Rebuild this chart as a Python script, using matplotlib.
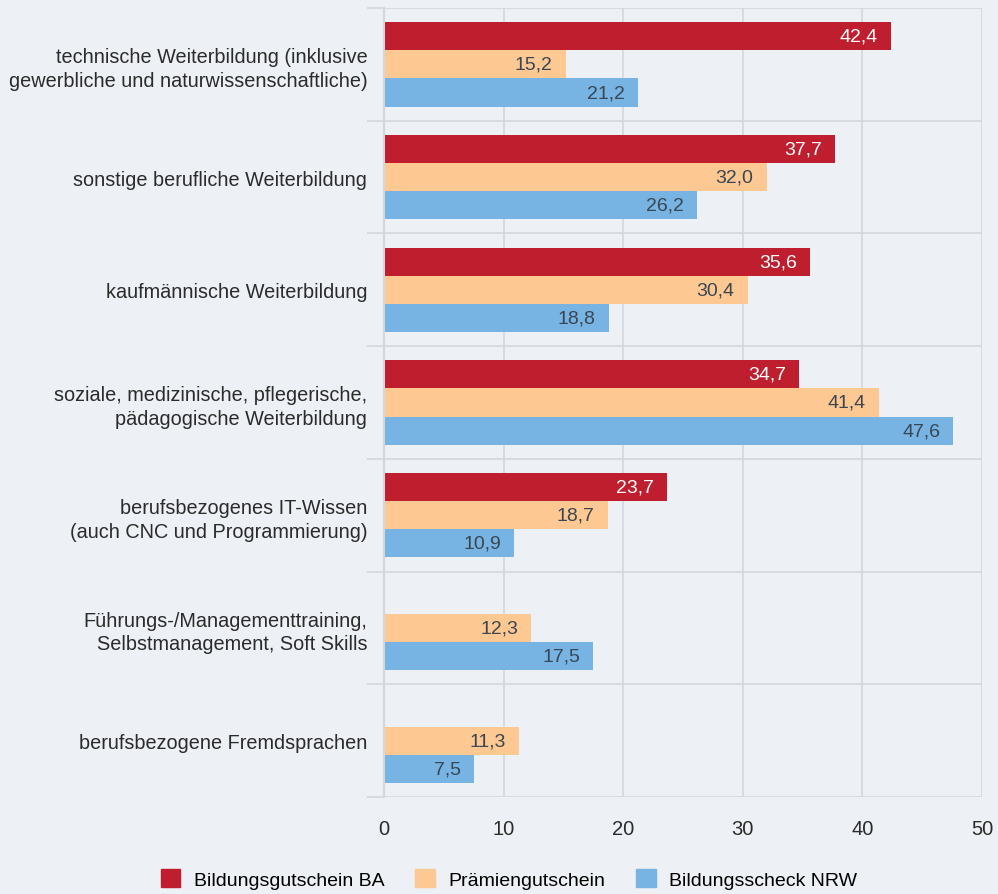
import numpy as np
import matplotlib.pyplot as plt

categories = [
    "technische Weiterbildung (inklusive\ngewerbliche und naturwissenschaftliche)",
    "sonstige berufliche Weiterbildung",
    "kaufmännische Weiterbildung",
    "soziale, medizinische, pflegerische,\npädagogische Weiterbildung",
    "berufsbezogenes IT-Wissen\n(auch CNC und Programmierung)",
    "Führungs-/Managementtraining,\nSelbstmanagement, Soft Skills",
    "berufsbezogene Fremdsprachen",
]
series_names = ["Bildungsgutschein BA", "Prämiengutschein", "Bildungsscheck NRW"]
gutschein_ba = [42.4, 37.7, 35.6, 34.7, 23.7, None, None]
praemie = [15.2, 32.0, 30.4, 41.4, 18.7, 12.3, 11.3]
scheck_nrw = [21.2, 26.2, 18.8, 47.6, 10.9, 17.5, 7.5]

colors = ["#be1e2d", "#fec892", "#77b4e3"]
label_colors = ["white", "#3a4652", "#3a4652"]
bg = "#edf0f4"
grid_c = "#d3d6da"

plt.rcParams["font.family"] = ["Liberation Sans", "DejaVu Sans"]

fig = plt.figure(figsize=(9.98, 8.95), dpi=100, facecolor=bg)
ax = fig.add_axes([384 / 998, 1 - 798 / 895, 598 / 998, 789 / 895])
ax.set_facecolor(bg)

n = len(categories)
y = np.arange(n)
h = 0.25
offsets = [-h, 0, h]
for s, (vals, col, lc) in enumerate(zip([gutschein_ba, praemie, scheck_nrw], colors, label_colors)):
    for i, v in enumerate(vals):
        if v is None:
            continue
        yy = y[i] + offsets[s]
        ax.barh(yy, v, height=h, color=col, zorder=3)
        ax.text(v - 1.1, yy, f"{v:.1f}".replace(".", ","), ha="right", va="center",
                color=lc, fontsize=14, zorder=4)

ax.set_xlim(0, 50)
ax.set_ylim(n - 0.5, -0.5)
ax.set_xticks(range(0, 51, 10))
ax.set_yticks(y)
ax.set_yticklabels(categories, fontsize=14.3, color="#2b2b2b", linespacing=1.3)
ax.set_yticks(np.arange(-0.5, n, 1), minor=True)
ax.tick_params(axis="y", which="major", length=0, pad=12)
ax.tick_params(axis="y", which="minor", length=12, color=grid_c, width=1.2)
ax.tick_params(axis="x", length=0, pad=16, labelsize=14.5, labelcolor="#2b2b2b")
ax.grid(axis="x", color=grid_c, lw=1.2, zorder=0)
ax.grid(axis="y", which="minor", color=grid_c, lw=1.2, zorder=0)
for sp in ["top", "right", "bottom"]:
    ax.spines[sp].set_visible(False)
ax.spines["left"].set_color(grid_c)
ax.spines["left"].set_linewidth(1.5)
ax.spines["left"].set_zorder(5)

handles = [plt.Rectangle((0, 0), 1, 1, color=c) for c in colors]
fig.legend(handles, series_names, loc="center", bbox_to_anchor=(0.51, 1 - 880 / 895),
           ncol=3, frameon=False, fontsize=14, handlelength=1.0, handleheight=1.0,
           columnspacing=1.6, handletextpad=0.7)

fig.savefig("out.png", dpi=100, facecolor=bg)
